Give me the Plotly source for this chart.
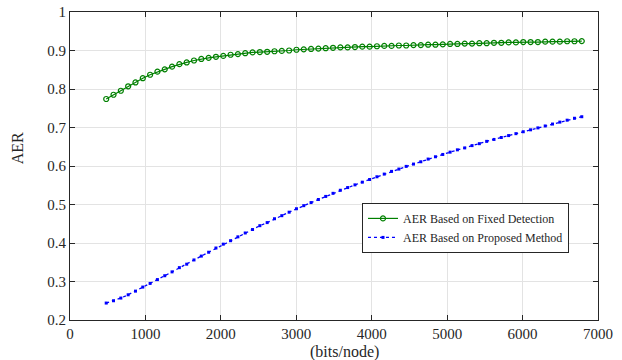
import plotly.graph_objects as go

bits_per_node = [480, 577, 674, 771, 868, 965, 1062, 1159, 1256, 1353, 1450, 1547, 1644, 1741,
                 1838, 1935, 2032, 2129, 2226, 2323, 2420, 2517, 2614, 2711, 2808, 2905, 3002,
                 3099, 3196, 3293, 3390, 3487, 3584, 3681, 3778, 3875, 3972, 4069, 4166, 4263,
                 4360, 4457, 4554, 4651, 4748, 4845, 4942, 5039, 5136, 5233, 5330, 5427, 5524,
                 5621, 5718, 5815, 5912, 6009, 6106, 6203, 6300, 6397, 6494, 6591, 6688, 6785]

aer_fixed = [0.774, 0.785, 0.7955, 0.807, 0.817, 0.828, 0.837, 0.845, 0.851, 0.858, 0.8645,
             0.869, 0.874, 0.878, 0.881, 0.8836, 0.886, 0.889, 0.8906, 0.893, 0.895, 0.896,
             0.8966, 0.898, 0.899, 0.900, 0.902, 0.903, 0.904, 0.905, 0.906, 0.907, 0.908,
             0.908, 0.909, 0.910, 0.910, 0.911, 0.912, 0.912, 0.913, 0.913, 0.914, 0.914,
             0.915, 0.915, 0.916, 0.917, 0.917, 0.918, 0.918, 0.919, 0.919, 0.920, 0.920,
             0.921, 0.921, 0.922, 0.922, 0.922, 0.923, 0.923, 0.923, 0.924, 0.924, 0.9245]

aer_proposed = [0.244, 0.250, 0.257, 0.2655, 0.275, 0.2855, 0.295, 0.305, 0.315, 0.325, 0.336,
                0.345, 0.356, 0.366, 0.376, 0.387, 0.397, 0.406, 0.416, 0.426, 0.435, 0.445,
                0.453, 0.463, 0.471, 0.480, 0.489, 0.497, 0.505, 0.513, 0.521, 0.529, 0.537,
                0.544, 0.551, 0.558, 0.565, 0.572, 0.579, 0.586, 0.592, 0.599, 0.605, 0.611,
                0.618, 0.624, 0.630, 0.636, 0.642, 0.647, 0.653, 0.658, 0.664, 0.669, 0.674,
                0.679, 0.684, 0.689, 0.694, 0.699, 0.704, 0.709, 0.714, 0.719, 0.724, 0.728]

x_ticks = [0, 1000, 2000, 3000, 4000, 5000, 6000, 7000]
y_ticks = [0.2, 0.3, 0.4, 0.5, 0.6, 0.7, 0.8, 0.9, 1]
y_ticktext = ["0.2", "0.3", "0.4", "0.5", "0.6", "0.7", "0.8", "0.9", "1"]
x_title = "(bits/node)"
y_title = "AER"

FONT = "Liberation Serif"
INK = "#262626"

fig = go.Figure()
fig.add_trace(go.Scatter(
    x=bits_per_node, y=aer_fixed, mode="lines+markers",
    name="AER Based on Fixed Detection",
    line=dict(color="#008000", width=1.2),
    marker=dict(symbol="circle-open", size=5, color="#008000", line=dict(width=1.2)),
))
fig.add_trace(go.Scatter(
    x=bits_per_node, y=aer_proposed, mode="lines+markers",
    name="AER Based on Proposed Method",
    line=dict(color="#0000ff", width=1.3, dash="dot"),
    marker=dict(symbol="square", size=3, color="#0000ff"),
))

axis_common = dict(
    showline=True, linecolor=INK, linewidth=1, mirror="ticks",
    ticks="inside", ticklen=5, tickcolor=INK,
    showgrid=True, gridcolor="#e3e3e3", gridwidth=1, zeroline=False,
    tickfont=dict(family=FONT, size=15, color=INK),
    automargin=False,
)

fig.update_layout(
    width=622, height=360,
    margin=dict(l=70, r=24, t=12, b=40),
    paper_bgcolor="white", plot_bgcolor="white",
    font=dict(family=FONT, size=15, color=INK),
    xaxis=dict(range=[0, 7000], tickvals=x_ticks, **axis_common),
    yaxis=dict(range=[0.2, 1], tickvals=y_ticks, ticktext=y_ticktext, **axis_common),
    legend=dict(x=0.553, y=0.299, xanchor="left", yanchor="middle",
                bgcolor="white", bordercolor=INK, borderwidth=1,
                font=dict(family=FONT, size=12, color=INK),
                itemwidth=30, tracegroupgap=0),
    showlegend=True,
    annotations=[
        dict(text=x_title, xref="paper", yref="paper", x=0.519, y=-0.104,
             xanchor="center", yanchor="middle", showarrow=False,
             font=dict(family=FONT, size=16, color=INK)),
        dict(text=y_title, xref="paper", yref="paper", x=-0.100, y=0.558,
             xanchor="center", yanchor="middle", showarrow=False, textangle=-90,
             font=dict(family=FONT, size=16, color=INK)),
    ],
)

fig.write_html("out.html")
